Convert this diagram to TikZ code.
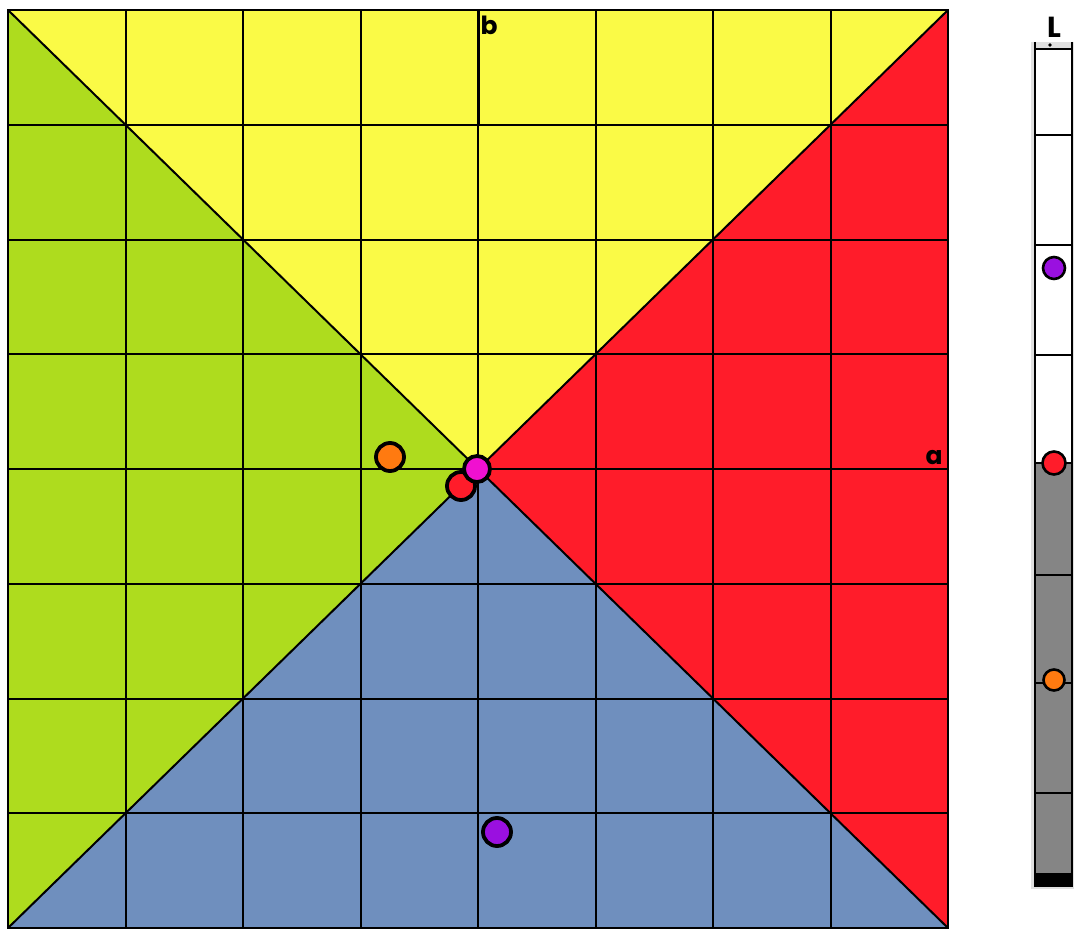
\documentclass[tikz,border=0pt]{standalone}
\usepackage{fontspec}
\setsansfont{Poppins}
\definecolor{cyel}{HTML}{FAFA46}
\definecolor{cgrn}{HTML}{AEDC1E}
\definecolor{cred}{HTML}{FF1C2A}
\definecolor{cblu}{HTML}{6F8FBE}
\definecolor{cgry}{HTML}{858585}
\definecolor{corg}{HTML}{FF7A10}
\definecolor{cpur}{HTML}{9A10E0}
\definecolor{cmag}{HTML}{F010D0}
\tikzset{
  gridline/.style={black, line width=2pt},
  dot/.style={circle, draw=black, line width=3.8pt, inner sep=0pt, minimum size=#1},
  smalldot/.style={circle, draw=black, line width=2.6pt, inner sep=0pt, minimum size=#1},
  lbl/.style={font=\sffamily\bfseries, inner sep=0pt}
}
\begin{document}
\begin{tikzpicture}[x=1pt,y=-1pt]
\useasboundingbox (0,0) rectangle (1074,931);
\fill[white] (0,0) rectangle (1074,931);
% quadrants
\coordinate (c) at (478,469);
\fill[cyel] (8,10) -- (948,10) -- (c) -- cycle;
\fill[cred] (948,10) -- (948,928) -- (c) -- cycle;
\fill[cblu] (8,928) -- (948,928) -- (c) -- cycle;
\fill[cgrn] (8,10) -- (8,928) -- (c) -- cycle;
% grid
\foreach \x in {8,125.5,243,360.5,478,595.5,713,830.5,948}
  \draw[gridline] (\x,10) -- (\x,928);
\foreach \y in {10,124.75,239.5,354.25,469,583.75,698.5,813.25,928}
  \draw[gridline] (8,\y) -- (948,\y);
\draw[gridline] (8,10) -- (948,928);
\draw[gridline] (948,10) -- (8,928);
\draw[black, line width=3pt] (478,10) -- (478,125);
\draw[black, line width=2.4pt] (8,10) rectangle (948,928);
% labels
\node[lbl, font=\sffamily\bfseries\fontsize{25}{25}\selectfont] (lb) at (489,25) {b};
\node[lbl, font=\sffamily\bfseries\fontsize{25}{25}\selectfont] (la) at (934,458) {a};
% dots in square
\node[dot=28pt, fill=corg] (o1) at (390,457) {};
\node[dot=28pt, fill=cred] (r1) at (461,486) {};
\node[dot=26pt, fill=cmag] (m1) at (477,469) {};
\node[dot=28pt, fill=cpur] (p1) at (497,832) {};
% bar
\fill[black!12] (1031,42) rectangle (1075,889);
\fill[white] (1035,48) rectangle (1072,463);
\fill[cgry] (1035,463) rectangle (1072,873);
\fill[black] (1035,873) rectangle (1072,887);
\foreach \y in {135,245,355,463,575,683,793}
  \draw[black, line width=1.4pt] (1035,\y) -- (1072,\y);
\draw[black, line width=1.6pt] (1035,42) -- (1035,887);
\draw[black, line width=1.6pt] (1072,42) -- (1072,887);
\draw[black, line width=1.8pt] (1035,49) -- (1072,49);
\draw[black, line width=1.4pt] (1035,44) -- (1035,54);
\draw[black, line width=1.4pt] (1072,44) -- (1072,54);
\fill[black] (1050,45) circle (1.8pt);
\node[lbl, font=\sffamily\bfseries\fontsize{29}{29}\selectfont] (lL) at (1054,27) {L};
\node[smalldot=22pt, fill=cpur] (p2) at (1054,268) {};
\node[smalldot=23pt, fill=cred] (r2) at (1054,463) {};
\node[smalldot=21pt, fill=corg] (o2) at (1054,680) {};
\end{tikzpicture}
\end{document}
